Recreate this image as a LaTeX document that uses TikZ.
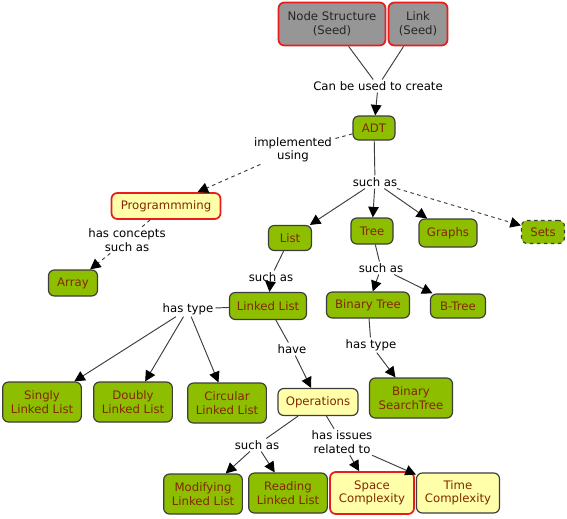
\documentclass[tikz,border=0pt]{standalone}
\usepackage{fontspec}
\setsansfont{DejaVu Sans}
\definecolor{cgreen}{RGB}{141, 190, 0}
\definecolor{cyellow}{RGB}{255, 255, 170}
\definecolor{cgray}{RGB}{150, 150, 150}
\definecolor{cred}{RGB}{230, 30, 30}
\definecolor{ctext}{RGB}{130, 40, 0}
\definecolor{cline}{RGB}{60, 60, 60}
\usetikzlibrary{arrows.meta, positioning}

\begin{document}
\begin{tikzpicture}[
  x=0.03cm, y=-0.03cm,
  font=\sffamily\fontsize{10}{11.5}\selectfont,
  concept/.style={draw=cline, line width=1pt, rounded corners=5pt, align=center, text=ctext, inner sep=2pt, minimum height=0.78cm},
  gconcept/.style={concept, fill=cgreen},
  yconcept/.style={concept, fill=cyellow},
  redline/.style={draw=cred, line width=1.5pt},
  seed/.style={concept, fill=cgray, redline, text=black!85},
  twoline/.style={minimum width=2.36cm, minimum height=1.2cm},
  phrase/.style={align=center, inner sep=1.5pt, text=black},
  link/.style={draw=cline, line width=0.8pt},
  arr/.style={link, -{Triangle[length=9pt, width=9pt, color=black]}}
]
  \useasboundingbox (0,0) rectangle (567,518);

  % concepts
  \node[seed, minimum width=3.21cm, minimum height=1.29cm] (nodestruct) at (332,24) {Node Structure\\(Seed)};
  \node[seed, minimum width=1.77cm, minimum height=1.29cm] (linkseed) at (418,24) {Link\\(Seed)};
  \node[gconcept, minimum width=1.26cm, minimum height=0.72cm] (adt) at (374,128) {ADT};
  \node[yconcept, redline, minimum width=3.27cm] (prog) at (166,206) {Programmming};
  \node[gconcept, minimum width=1.47cm] (array) at (73,283) {Array};
  \node[gconcept, minimum width=1.29cm, minimum height=0.75cm] (list) at (290,238) {List};
  \node[gconcept, minimum width=1.26cm] (tree) at (372,231) {Tree};
  \node[gconcept, minimum width=1.74cm, minimum height=0.84cm] (graphs) at (448,233) {Graphs};
  \node[gconcept, dashed, minimum width=1.29cm, minimum height=0.69cm] (sets) at (543,232) {Sets};
  \node[gconcept, minimum width=2.31cm, minimum height=0.81cm] (linkedlist) at (268,306) {Linked List};
  \node[gconcept, minimum width=2.49cm] (bintree) at (368,305) {Binary Tree};
  \node[gconcept, minimum width=1.65cm, minimum height=0.72cm] (btree) at (458,306) {B-Tree};
  \node[gconcept, twoline] (singly) at (42,402) {Singly\\Linked List};
  \node[gconcept, twoline] (doubly) at (133,402) {Doubly\\Linked List};
  \node[gconcept, twoline] (circular) at (227,403) {Circular\\Linked List};
  \node[yconcept, minimum width=2.4cm, minimum height=0.81cm] (ops) at (318,402) {Operations};
  \node[gconcept, twoline, minimum width=2.49cm] (bst) at (411,398) {Binary\\SearchTree};
  \node[gconcept, twoline] (modify) at (203,494) {Modifying\\Linked List};
  \node[gconcept, twoline] (reading) at (288,493) {Reading\\Linked List};
  \node[yconcept, twoline, redline, minimum width=2.52cm, minimum height=1.26cm] (space) at (372,493) {Space\\Complexity};
  \node[yconcept, twoline, minimum width=2.49cm] (time) at (458,493) {Time\\Complexity};

  % linking phrases
  \node[phrase] (canbe) at (378,86) {Can be used to create};
  \node[phrase] (impl) at (293,150) {implemented\\using};
  \node[phrase] (suchasadt) at (375,182) {such as};
  \node[phrase] (hasconc) at (127,240) {has concepts\\such as};
  \node[phrase] (suchaslist) at (271,277) {such as};
  \node[phrase] (suchastree) at (381,268) {such as};
  \node[phrase] (hastypell) at (188,309) {has type};
  \node[phrase] (have) at (292,349) {have};
  \node[phrase] (hastypebt) at (371,345) {has type};
  \node[phrase] (suchasops) at (257,445) {such as};
  \node[phrase] (issues) at (342,442) {has issues\\related to};

  % connectors
  \draw[link] (nodestruct) -- (canbe);
  \draw[link] (linkseed) -- (canbe);
  \draw[arr] (canbe) -- (adt);
  \draw[link, dashed] (adt) -- (impl);
  \draw[arr, dashed] (impl) -- (prog);
  \draw[link] (adt) -- (suchasadt);
  \draw[arr] (suchasadt) -- (list);
  \draw[arr] (suchasadt) -- (tree);
  \draw[arr] (suchasadt) -- (graphs);
  \draw[arr, dashed] (suchasadt) -- (sets);
  \draw[link, dashed] (prog) -- (hasconc);
  \draw[arr, dashed] (hasconc) -- (array);
  \draw[link] (list) -- (suchaslist);
  \draw[arr] (suchaslist) -- (linkedlist);
  \draw[link] (tree) -- (suchastree);
  \draw[arr] (suchastree) -- (bintree);
  \draw[arr] (suchastree) -- (btree);
  \draw[link] (linkedlist) -- (hastypell);
  \draw[arr] (hastypell) -- (singly);
  \draw[arr] (hastypell) -- (doubly);
  \draw[arr] (hastypell) -- (circular);
  \draw[link] (linkedlist) -- (have);
  \draw[arr] (have) -- (ops);
  \draw[link] (bintree) -- (hastypebt);
  \draw[arr] (hastypebt) -- (bst);
  \draw[link] (ops) -- (suchasops);
  \draw[arr] (suchasops) -- (modify);
  \draw[arr] (suchasops) -- (reading);
  \draw[link] (ops) -- (issues);
  \draw[arr] (issues) -- (space);
  \draw[arr] (issues) -- (time);
\end{tikzpicture}
\end{document}
